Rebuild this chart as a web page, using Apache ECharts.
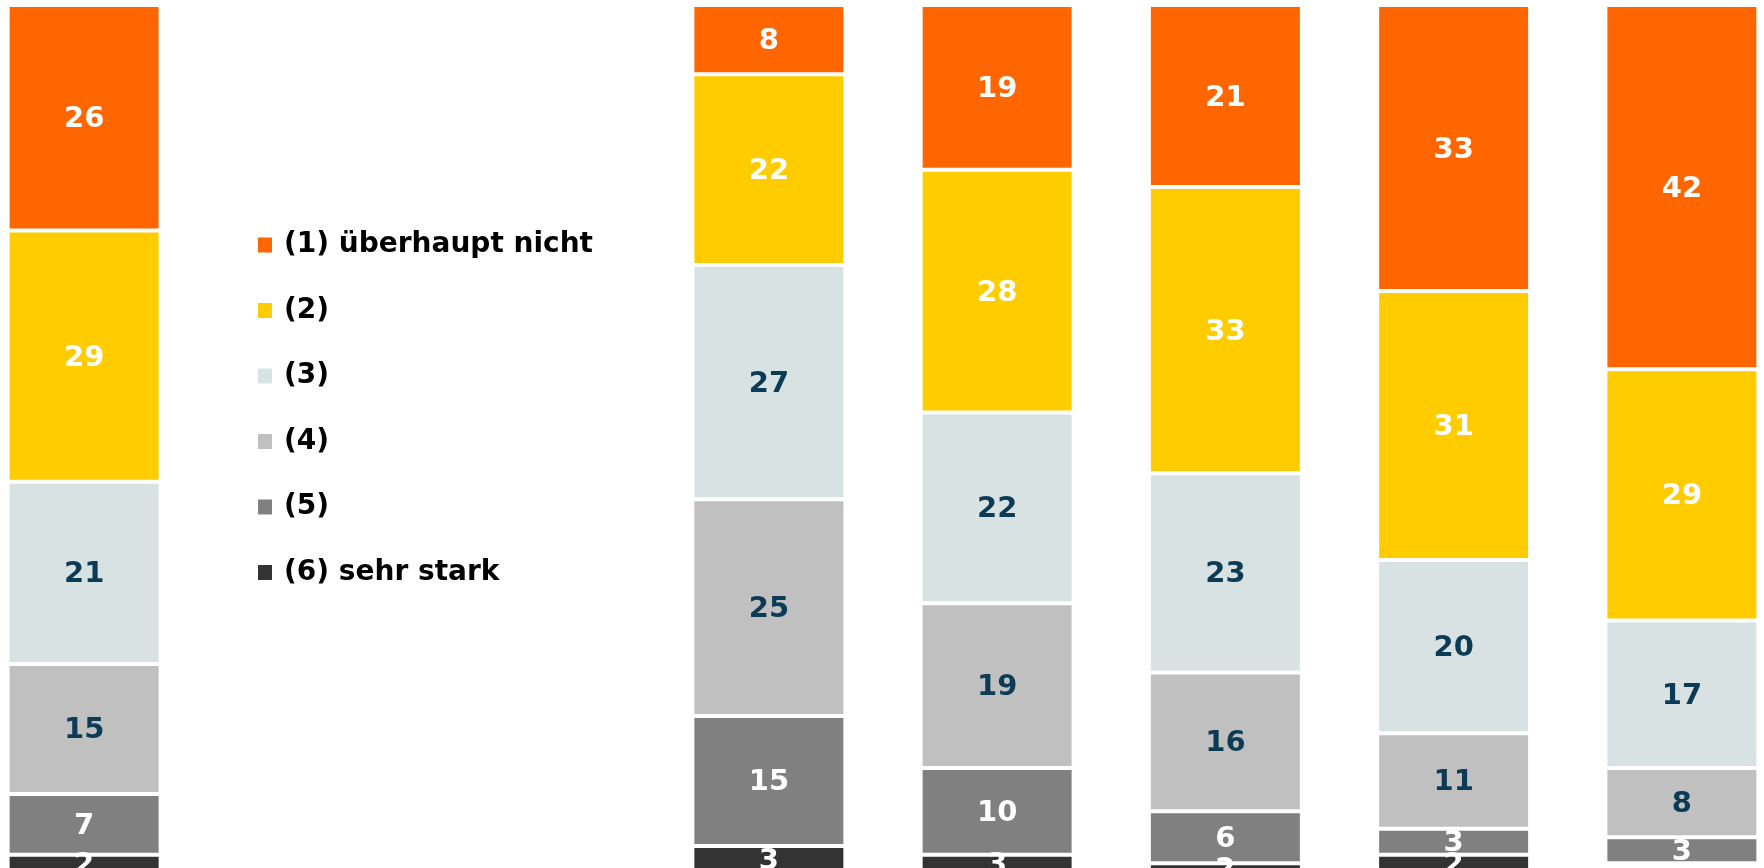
<!DOCTYPE html>
<html>
<head>
<meta charset="utf-8">
<script src="https://cdn.jsdelivr.net/npm/echarts@6/dist/echarts.min.js"></script>
<style>
html,body{margin:0;padding:0;background:#fff;}
#chart{width:1764px;height:868px;}
</style>
</head>
<body>
<div id="chart"></div>
<script>
// Categories (two empty slots hold the legend)
const categories = ['Gesamt', 'leer1', 'leer2', 'Gruppe 1', 'Gruppe 2', 'Gruppe 3', 'Gruppe 4', 'Gruppe 5'];
const seriesNames = ['(1) überhaupt nicht', '(2)', '(3)', '(4)', '(5)', '(6) sehr stark'];

const s1 = [26, '-', '-', 8, 19, 21, 33, 42];
const s2 = [29, '-', '-', 22, 28, 33, 31, 29];
const s3 = [21, '-', '-', 27, 22, 23, 20, 17];
const s4 = [15, '-', '-', 25, 19, 16, 11, 8];
const s5 = [7, '-', '-', 15, 10, 6, 3, 3];
const s6 = [2, '-', '-', 3, 3, 2, 2, 0];

const seriesData = [s1, s2, s3, s4, s5, s6];
const colors = ['#FF6600', '#FFCC00', '#D9E2E2', '#C0C0C0', '#808080', '#333333'];
const labelColors = ['#FFFFFF', '#FFFFFF', '#0C3B56', '#0C3B56', '#FFFFFF', '#FFFFFF'];

const chart = echarts.init(document.getElementById('chart'), null, {renderer: 'canvas'});

const series = seriesNames.map((name, i) => ({
  name: name,
  type: 'bar',
  stack: 'total',
  data: seriesData[i],
  barWidth: 153,
  itemStyle: {color: colors[i], borderColor: '#FFFFFF', borderWidth: 2},
  label: {
    show: true,
    position: 'inside',
    offset: [0, 2],
    color: labelColors[i],
    fontFamily: 'DejaVu Sans',
    fontWeight: 'bold',
    fontSize: 29,
    formatter: p => (p.value ? String(p.value) : '')
  },
  emphasis: {disabled: true},
  animation: false
}));

chart.setOption({
  animation: false,
  color: colors,
  grid: {left: -30, right: -32, top: 5, bottom: -4, containLabel: false, outerBoundsMode: 'none'},
  xAxis: {
    type: 'category',
    data: categories,
    show: false
  },
  yAxis: {
    type: 'value',
    inverse: true,
    min: 0,
    max: 100,
    show: false
  },
  legend: {
    orient: 'vertical',
    left: 256,
    top: 231,
    padding: 0,
    itemWidth: 16,
    itemHeight: 17,
    itemGap: 37.5,
    icon: 'rect',
    data: seriesNames,
    textStyle: {
      fontFamily: 'DejaVu Sans',
      fontWeight: 'bold',
      fontSize: 28,
      lineHeight: 28,
      color: '#000000',
      padding: [0, 0, 0, 6]
    }
  },
  series: series
});
</script>
</body>
</html>
